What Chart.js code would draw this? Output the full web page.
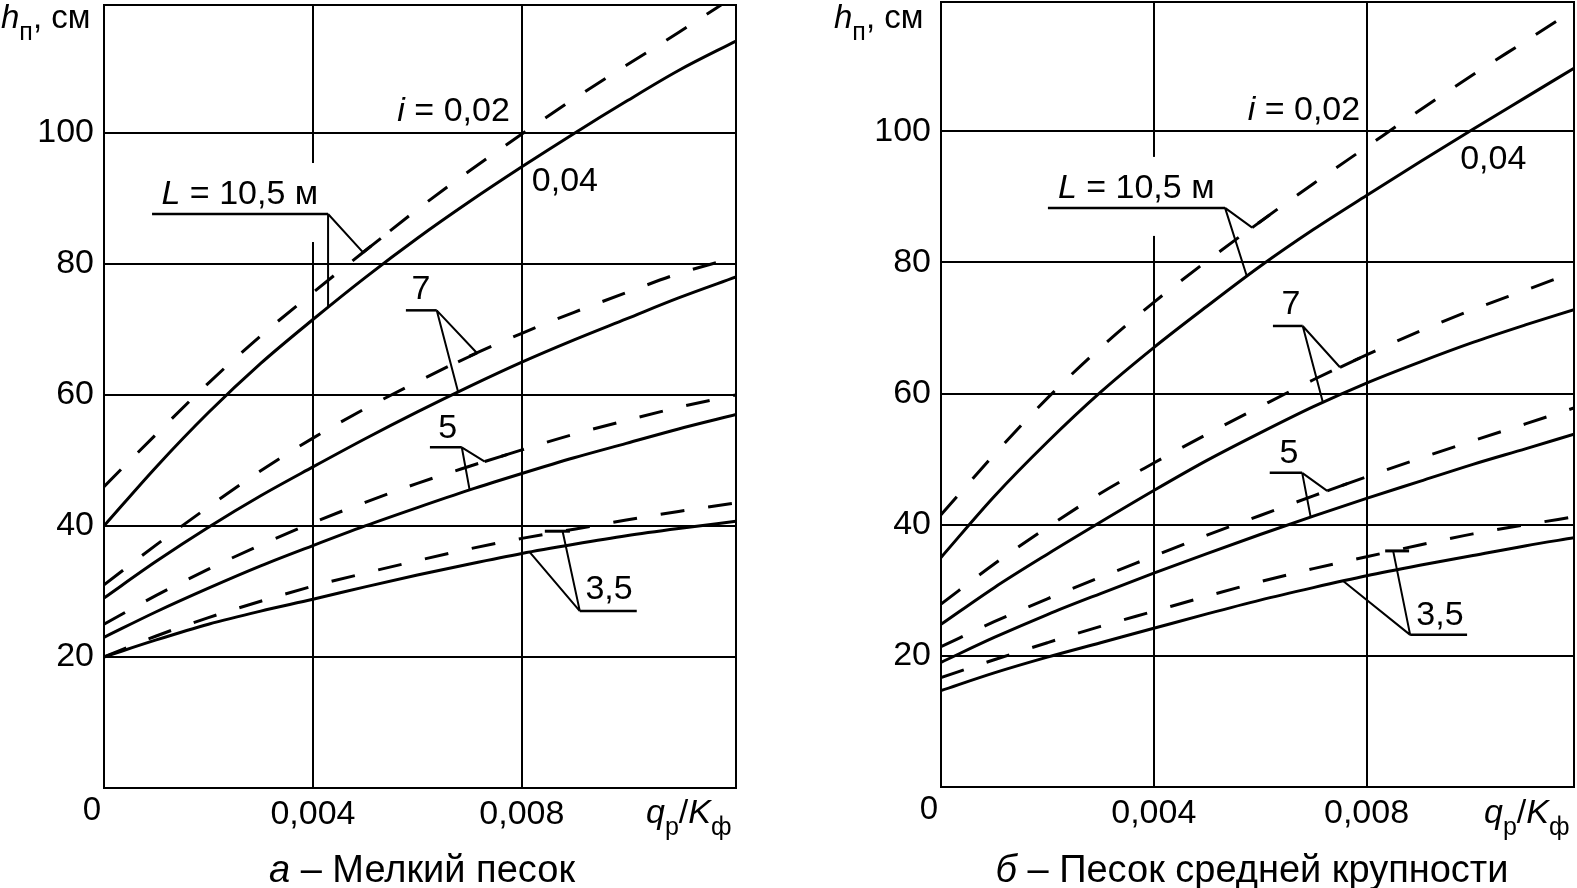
<!DOCTYPE html>
<html>
<head>
<meta charset="utf-8">
<script src="https://cdn.jsdelivr.net/npm/chart.js@4.4.1/dist/chart.umd.min.js"></script>
<style>
  html, body { margin: 0; padding: 0; background: #fff; }
  body { position: relative; width: 1577px; height: 888px; overflow: hidden; font-family: "Liberation Sans", Arial, sans-serif; color: #000; }
  canvas { position: absolute; top: 0; }
  .t { position: absolute; white-space: nowrap; line-height: 1; }
  .sub { position: relative; }
</style>
</head>
<body>
<canvas id="chart-a" width="790" height="888" style="left:0"></canvas>
<canvas id="chart-b" width="777" height="888" style="left:800px"></canvas>

<div class="t" style="left:1px;top:0px;font-size:33px"><i>h</i><span class="sub" style="font-size:25px;top:12px">п</span>, см</div>
<div class="t" style="left:834px;top:0px;font-size:33px"><i>h</i><span class="sub" style="font-size:25px;top:12px">п</span>, см</div>
<div class="t" style="left:646px;top:794px;font-size:34px"><i>q</i><span class="sub" style="font-size:25px;top:12px">р</span>/<i>K</i><span class="sub" style="font-size:25px;top:12px">ф</span></div>
<div class="t" style="left:1484px;top:794px;font-size:34px"><i>q</i><span class="sub" style="font-size:25px;top:12px">р</span>/<i>K</i><span class="sub" style="font-size:25px;top:12px">ф</span></div>
<div class="t" style="left:422px;top:850px;font-size:38px;transform:translateX(-50%)"><i>а</i> – Мелкий песок</div>
<div class="t" style="left:1252px;top:850px;font-size:38px;transform:translateX(-50%)"><i>б</i> – Песок средней крупности</div>

<script>
// q_p / K_f values where curves were read
const qA = [0, 0.001, 0.002, 0.003, 0.004, 0.005, 0.006, 0.007, 0.008, 0.009, 0.010, 0.011, 0.0121];
const qB = [0, 0.001, 0.002, 0.003, 0.004, 0.005, 0.006, 0.007, 0.008, 0.009, 0.010, 0.011, 0.0119];

const yTicks = [20, 40, 60, 80, 100];
const xTicks = [0.004, 0.008];
const xTickLabels = ["0,004", "0,008"];

// а – мелкий песок (solid: i = 0,04, dashed: i = 0,02)
const fineL105_004 = [40, 49, 57.3, 64.8, 71.5, 77.9, 83.9, 89.5, 94.8, 99.9, 104.8, 109.5, 114];
const fineL105_002 = [46, 54, 61.8, 69, 75.6, 82, 88.3, 94.2, 99.8, 105.2, 110.3, 115.3, 121];
const fineL7_004 = [29, 34.6, 39.8, 44.6, 49, 53.3, 57.4, 61.3, 65, 68.4, 71.6, 74.8, 78];
const fineL7_002 = [31, 37.1, 42.9, 48.4, 53.4, 57.9, 62, 65.9, 69.4, 72.6, 75.6, 78.5, 81];
const fineL5_004 = [23, 26.9, 30.5, 33.9, 37, 40, 42.8, 45.5, 48, 50.4, 52.6, 54.8, 57];
const fineL5_002 = [25, 29.4, 33.4, 37.1, 40.5, 43.6, 46.5, 49.1, 51.6, 54, 56.1, 58.1, 60];
const fineL35_004 = [20, 22.6, 25, 27, 28.8, 30.7, 32.5, 34.2, 35.8, 37.2, 38.5, 39.6, 40.7];
const fineL35_002 = [20, 23.2, 26, 28.5, 30.8, 32.8, 34.7, 36.5, 38.1, 39.5, 40.9, 42.2, 43.5];

// б – песок средней крупности
const medL105_004 = [35, 44.3, 52.6, 60.2, 67, 73.3, 79.4, 85, 90.2, 95.3, 100.3, 105.2, 109.6];
const medL105_002 = [41.5, 50.7, 59.3, 67, 73.9, 80.2, 86.2, 92, 97.6, 103.2, 108.6, 113.8, 118.5];
const medL7_004 = [24.8, 30.4, 35.5, 40.4, 45.2, 49.8, 54, 58, 61.6, 64.8, 67.8, 70.5, 72.8];
const medL7_002 = [27.9, 34, 39.6, 44.8, 49.4, 53.8, 58, 62.1, 65.9, 69.5, 72.8, 75.8, 78.5];
const medL5_004 = [19, 22.8, 26.3, 29.5, 32.6, 35.6, 38.5, 41.3, 44, 46.6, 49.2, 51.6, 53.8];
const medL5_002 = [21.4, 25.2, 28.7, 32, 35.2, 38.4, 41.4, 44.4, 47.3, 50.1, 52.8, 55.4, 57.8];
const medL35_004 = [14.7, 17.4, 19.8, 22, 24.2, 26.4, 28.5, 30.4, 32.2, 33.8, 35.3, 36.8, 38];
const medL35_002 = [16.7, 19.4, 22, 24.5, 26.8, 29.1, 31.3, 33.3, 35.1, 36.9, 38.6, 40, 41.2];

const FONT = '"Liberation Sans", Arial, sans-serif';
const DASH = [24, 24];

// leader labels, placed in data units (q, h)
const notesA = [
  { parts: [["i", true], [" = 0,02", false]], tx: 0.00777, ty: 103.2, align: "right" },
  { parts: [["0,04", false]], tx: 0.00819, ty: 92.6, align: "left" },
  { parts: [["L", true], [" = 10,5 м", false]], tx: 0.0026, ty: 90.5, align: "center", clearGrid: true,
    under: [0.00092, 0.00429], uy: 87.6, apex: 0.00429,
    solid: [fineL105_004, 0.00429], dash: [fineL105_002, 0.00496], tick: [0.00496, 0.0053] },
  { parts: [["7", false]], tx: 0.00607, ty: 76, align: "center",
    under: [0.00578, 0.00637], uy: 72.9, apex: 0.00637,
    solid: [fineL7_004, 0.00678], dash: [fineL7_002, 0.00714], tick: [0.00678, 0.00714] },
  { parts: [["5", false]], tx: 0.00658, ty: 54.9, align: "center",
    under: [0.00624, 0.00685], uy: 52, apex: 0.00685,
    solid: [fineL5_004, 0.007], dash: [fineL5_002, 0.00729], tick: [0.00729, 0.00773] },
  { parts: [["3,5", false]], tx: 0.00967, ty: 30.2, align: "center",
    under: [0.00911, 0.0102], uy: 27, apex: 0.00911,
    solid: [fineL35_004, 0.00815], dash: [fineL35_002, 0.00878], tick: [0.00844, 0.00892], flat: true },
];

const notesB = [
  { parts: [["i", true], [" = 0,02", false]], tx: 0.00788, ty: 103.2, align: "right" },
  { parts: [["0,04", false]], tx: 0.00976, ty: 95.6, align: "left" },
  { parts: [["L", true], [" = 10,5 м", false]], tx: 0.00367, ty: 91.2, align: "center", clearGrid: true,
    under: [0.00201, 0.00534], uy: 88.3, apex: 0.00534,
    solid: [medL105_004, 0.00575], dash: [medL105_002, 0.00585], tick: [0.00585, 0.00618] },
  { parts: [["7", false]], tx: 0.00658, ty: 73.5, align: "center",
    under: [0.00624, 0.0068], uy: 70.3, apex: 0.0068,
    solid: [medL7_004, 0.00718], dash: [medL7_002, 0.0075], tick: [0.0075, 0.00788] },
  { parts: [["5", false]], tx: 0.00654, ty: 50.9, align: "center",
    under: [0.00618, 0.00679], uy: 47.9, apex: 0.00679,
    solid: [medL5_004, 0.00695], dash: [medL5_002, 0.00726], tick: [0.00726, 0.00765] },
  { parts: [["3,5", false]], tx: 0.00938, ty: 26.2, align: "center",
    under: [0.00882, 0.00989], uy: 23.2, apex: 0.00882,
    solid: [medL35_004, 0.00756], dash: [medL35_002, 0.0085], tick: [0.00835, 0.0088], flat: true },
];

function valueAt(xs, ys, x) {
  for (let k = 1; k < xs.length; k++) {
    if (x <= xs[k]) {
      const t = (x - xs[k - 1]) / (xs[k] - xs[k - 1]);
      return ys[k - 1] + t * (ys[k] - ys[k - 1]);
    }
  }
  return ys[ys.length - 1];
}

function partFont(italic) { return (italic ? "italic " : "") + "34px " + FONT; }

function richWidth(ctx, parts) {
  let w = 0;
  parts.forEach(p => { ctx.font = partFont(p[1]); w += ctx.measureText(p[0]).width; });
  return w;
}

function richLeft(ctx, n, px) {
  const w = richWidth(ctx, n.parts);
  return n.align === "center" ? px - w / 2 : n.align === "right" ? px - w : px;
}

function notesPlugin(xs, notes) {
  return {
    id: "notes",
    beforeDatasetsDraw(chart) {
      // labels break the grid line they sit on
      const { ctx, scales: { x, y } } = chart;
      ctx.save();
      ctx.fillStyle = "#fff";
      notes.filter(n => n.clearGrid).forEach(n => {
        const w = richWidth(ctx, n.parts);
        const left = richLeft(ctx, n, x.getPixelForValue(n.tx));
        const top = y.getPixelForValue(n.ty) - 32;
        const bottom = y.getPixelForValue(n.uy) + 28;
        ctx.fillRect(left - 4, top, w + 8, bottom - top);
      });
      ctx.restore();
    },
    afterDatasetsDraw(chart) {
      const { ctx, scales: { x, y } } = chart;
      const pt = (q, h) => [x.getPixelForValue(q), y.getPixelForValue(h)];
      ctx.save();
      ctx.fillStyle = "#000";
      ctx.strokeStyle = "#000";
      ctx.lineCap = "butt";
      notes.forEach(n => {
        let cx = richLeft(ctx, n, x.getPixelForValue(n.tx));
        const cy = y.getPixelForValue(n.ty);
        ctx.textAlign = "left";
        ctx.textBaseline = "middle";
        n.parts.forEach(p => {
          ctx.font = partFont(p[1]);
          ctx.fillText(p[0], cx, cy);
          cx += ctx.measureText(p[0]).width;
        });
        if (!n.under) return;
        const a = pt(n.apex, n.uy);
        const s = pt(n.solid[1], valueAt(xs, n.solid[0], n.solid[1]));
        const d = pt(n.dash[1], valueAt(xs, n.dash[0], n.dash[1]));
        const t0 = pt(n.tick[0], valueAt(xs, n.dash[0], n.tick[0]));
        const t1 = pt(n.tick[1], valueAt(xs, n.dash[0], n.tick[1]));
        if (n.flat) { t0[1] = d[1]; t1[1] = d[1]; }
        ctx.lineWidth = 2.5;
        ctx.beginPath();
        ctx.moveTo(x.getPixelForValue(n.under[0]), a[1]);
        ctx.lineTo(x.getPixelForValue(n.under[1]), a[1]);
        ctx.stroke();
        ctx.lineWidth = 2;
        ctx.beginPath();
        ctx.moveTo(a[0], a[1]); ctx.lineTo(s[0], s[1]);
        ctx.moveTo(a[0], a[1]); ctx.lineTo(d[0], d[1]);
        ctx.stroke();
        ctx.lineWidth = 3;
        ctx.beginPath();
        ctx.moveTo(t0[0], t0[1]); ctx.lineTo(t1[0], t1[1]);
        ctx.stroke();
      });
      ctx.restore();
    },
    afterDraw(chart) {
      const { ctx, chartArea: c } = chart;
      ctx.save();
      ctx.strokeStyle = "#000";
      ctx.lineWidth = 2;
      ctx.strokeRect(c.left, c.top, c.right - c.left, c.bottom - c.top);
      ctx.fillStyle = "#000";
      ctx.font = "33px " + FONT;
      ctx.textAlign = "center";
      ctx.textBaseline = "top";
      ctx.fillText("0", c.left - 12, c.bottom + 6);
      ctx.restore();
    },
  };
}

function series(xs, ys, dashed) {
  return {
    data: xs.map((q, k) => ({ x: q, y: ys[k] })),
    borderColor: "#000",
    borderWidth: 3,
    borderDash: dashed ? DASH : [],
    pointRadius: 0,
    cubicInterpolationMode: "monotone",
    fill: false,
  };
}

function noPad(s) { s.paddingTop = 0; s.paddingBottom = 0; s.paddingLeft = 0; s.paddingRight = 0; }

function makeChart(id, xs, curves, notes, box) {
  return new Chart(document.getElementById(id), {
    type: "line",
    data: { datasets: curves.map(c => series(xs, c[0], c[1])) },
    options: {
      responsive: false,
      animation: false,
      devicePixelRatio: 1,
      layout: { padding: { left: 0, top: box.top, right: box.right, bottom: 0 } },
      plugins: { legend: { display: false }, tooltip: { enabled: false } },
      scales: {
        x: {
          type: "linear",
          min: 0,
          max: box.xMax,
          afterBuildTicks: s => { s.ticks = xTicks.map(v => ({ value: v })); },
          afterFit: s => { s.height = box.xAxisH; noPad(s); },
          ticks: {
            color: "#000",
            padding: 6,
            font: { family: FONT, size: 34 },
            callback: (v) => xTickLabels[xTicks.indexOf(v)] ?? "",
          },
          grid: { color: "#000", lineWidth: 2, drawTicks: false },
          border: { display: true, color: "#000", width: 2 },
        },
        y: {
          type: "linear",
          min: 0,
          max: box.yMax,
          afterBuildTicks: s => { s.ticks = yTicks.map(v => ({ value: v })); },
          afterFit: s => { s.width = box.yAxisW; noPad(s); },
          ticks: {
            color: "#000",
            padding: 10,
            font: { family: FONT, size: 34 },
            callback: v => String(v),
          },
          grid: { color: "#000", lineWidth: 2, drawTicks: false },
          border: { display: true, color: "#000", width: 2 },
        },
      },
    },
    plugins: [notesPlugin(xs, notes)],
  });
}

makeChart("chart-a", qA, [
  [fineL105_004, false], [fineL105_002, true],
  [fineL7_004, false], [fineL7_002, true],
  [fineL5_004, false], [fineL5_002, true],
  [fineL35_004, false], [fineL35_002, true],
], notesA, { top: 5, right: 54, xAxisH: 100, yAxisW: 104, xMax: 0.0121, yMax: 119.5 });

makeChart("chart-b", qB, [
  [medL105_004, false], [medL105_002, true],
  [medL7_004, false], [medL7_002, true],
  [medL5_004, false], [medL5_002, true],
  [medL35_004, false], [medL35_002, true],
], notesB, { top: 2, right: 3, xAxisH: 101, yAxisW: 141, xMax: 0.0119, yMax: 119.7 });
</script>
</body>
</html>
